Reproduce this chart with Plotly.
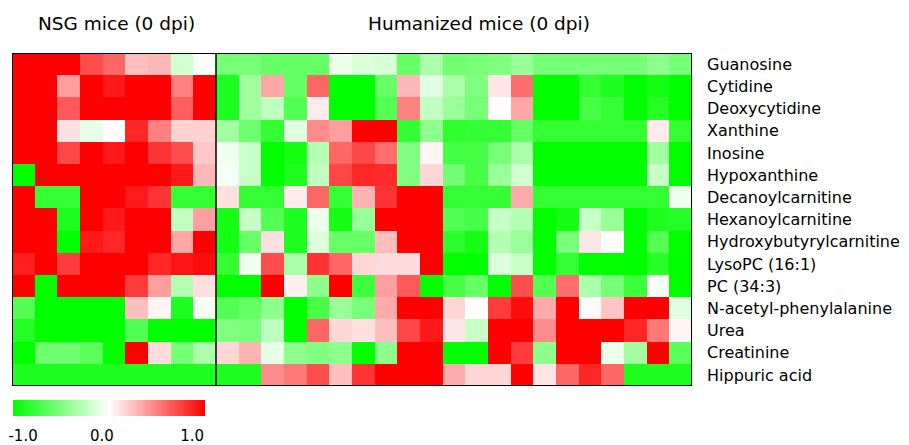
import plotly.graph_objects as go

metabolites = ["Guanosine", "Cytidine", "Deoxycytidine", "Xanthine", "Inosine",
               "Hypoxanthine", "Decanoylcarnitine", "Hexanoylcarnitine",
               "Hydroxybutyrylcarnitine", "LysoPC (16:1)", "PC (34:3)",
               "N-acetyl-phenylalanine", "Urea", "Creatinine", "Hippuric acid"]

group_titles = ["NSG mice (0 dpi)", "Humanized mice (0 dpi)"]

nsg_values = [
    [1, 1, 1, 0.7, 0.6, 0.25, 0.28, -0.18, -0.02],
    [1, 1, 0.38, 1, 0.9, 1, 1, 0.5, 1],
    [1, 1, 0.65, 1, 1, 1, 1, 0.63, 1],
    [1, 1, 0.12, -0.1, 0, 0.85, 0.5, 0.18, 0.18],
    [1, 1, 0.72, 1, 0.9, 1, 0.8, 0.7, 0.22],
    [-1, 1, 1, 1, 1, 1, 1, 0.9, 0.28],
    [1, -0.8, -0.8, 1, 1, 0.9, 0.8, -0.8, -0.8],
    [1, 1, -0.88, 1, 0.9, 1, 1, -0.24, 0.38],
    [1, 1, -1, 0.9, 0.85, 1, 1, 0.35, 1],
    [0.88, 1, 0.77, 1, 1, 1, 0.85, 0.92, 0.95],
    [1, -1, 1, 1, 1, 0.77, 0.38, -0.3, 0.12],
    [-0.68, -1, -1, -1, -1, 0.25, 0.04, -0.88, -0.05],
    [-0.85, -1, -1, -1, -1, -0.68, -1, -1, -1],
    [-1, -0.57, -0.57, -0.65, -1, 1, 0.14, -0.53, -0.33],
    [-0.88, -0.88, -0.88, -0.88, -0.88, -0.88, -0.88, -0.88, -0.88],
]

hum_values = [
    [-0.53, -0.53, -0.6, -0.6, -0.6, -0.08, -0.14, -0.16, -0.6, -0.33, -0.55, -0.53, -0.5, -0.4, -0.53, -0.53, -0.53, -0.53, -0.53, -0.45, -0.53],
    [-0.88, -0.37, 0.35, -0.6, 0.6, -1, -1, -0.6, 0.28, -0.12, -0.33, -0.5, 0.1, 0.57, -1, -1, -0.8, -0.88, -1, -0.92, -1],
    [-0.88, -0.37, -0.25, -0.68, 0.08, -1, -1, -0.68, 0.5, -0.24, -0.4, -0.53, 0.0, 0.35, -1, -1, -0.72, -0.8, -1, -0.85, -1],
    [-0.37, -0.57, -0.8, -0.12, 0.45, 0.38, 1, 1, -0.8, -0.45, -0.82, -0.8, -0.8, -0.6, -0.8, -0.8, -0.8, -0.8, -0.8, 0.08, -0.8],
    [-0.06, -0.22, -1, -0.92, -0.3, 0.6, 0.72, 0.57, -0.5, 0.04, -0.73, -0.72, -0.53, -0.33, -1, -1, -1, -1, -1, -0.37, -1],
    [-0.04, -0.22, -1, -0.88, -0.25, 0.72, 0.85, 0.83, -0.5, 0.16, -0.55, -0.72, -0.4, -0.18, -1, -1, -1, -1, -1, -0.22, -1],
    [0.12, -0.8, -0.8, 0.08, 0.6, -0.8, 0.3, 0.8, 1, 1, -0.8, -0.8, -0.8, 0.33, -0.8, -0.8, -0.8, -0.8, -0.8, -0.8, -0.06],
    [-0.92, -0.22, -0.68, -0.88, -0.08, -0.92, -0.4, 1, 1, 1, -0.68, -0.72, -0.22, -0.3, -1, -0.92, -0.22, -0.4, -1, -0.88, -0.85],
    [-0.92, -0.6, 0.12, -0.88, -0.14, -0.6, -0.6, 0.25, 1, 1, -0.82, -0.92, -0.3, -0.4, -1, -0.53, 0.1, -0.02, -1, -0.68, -1],
    [-0.8, -0.06, 0.7, -0.33, 0.8, 0.6, 0.16, 0.14, 0.14, 1, -1, -1, -0.14, -0.22, -1, -0.8, -1, -1, -1, -0.85, -1],
    [-1, -1, 1, 0.06, -0.45, 1, -0.77, 0.38, 0.65, -1, -0.72, -0.6, -1, 0.7, -0.68, 0.57, -0.33, -0.53, -0.77, -0.04, -1],
    [-0.68, -0.6, -0.45, -1, -0.72, -0.4, -0.53, 0.33, 1, 1, 0.16, 0, 0.77, 0.95, 0.33, 1, 0.02, 0.23, 1, 1, -0.12],
    [-0.5, -0.53, -0.25, -1, 0.6, 0.16, 0.12, 0.25, 0.72, 0.9, 0.1, -0.22, 1, 1, 0.45, 1, 1, 1, 0.85, 0.53, 0.04],
    [0.16, 0.3, -0.1, -0.45, -0.5, -0.45, -1, -0.45, 1, 1, -1, -1, 1, 0.77, -0.45, 1, 1, -0.08, -0.37, 1, -0.65],
    [-0.88, -0.88, 0.45, 0.53, 0.7, 0.25, 0.8, 1, 1, 1, 0.33, 0.16, 0.16, 1, 0.1, 0.6, 0.85, 0.6, -0.88, -0.88, -0.88],
]

# label positions along the colour bar as drawn in the reference
colorbar_ticks = [-0.89, -0.07, 0.87]
colorbar_ticklabels = ["-1.0", "0.0", "1.0"]

n_nsg = len(nsg_values[0])
n_hum = len(hum_values[0])
z = [n + h for n, h in zip(nsg_values, hum_values)]
cols = list(range(n_nsg + n_hum))
rows = list(range(len(metabolites)))

FONT = "DejaVu Sans, Arial, sans-serif"

# page body has an 8px default margin, so the figure is sized 8px smaller
W, H = 901, 437

fig = go.Figure(go.Heatmap(
    z=z, x=cols, y=rows,
    zmin=-1, zmax=1,
    colorscale=[[0, "rgb(0,255,0)"], [0.5, "rgb(255,255,255)"], [1, "rgb(255,0,0)"]],
    colorbar=dict(
        orientation="h",
        xref="container", yref="container",
        x=6 / W, xanchor="left",
        y=1 - 392 / H, yanchor="top",
        lenmode="pixels", len=192,
        thickness=16,
        xpad=0, ypad=0,
        outlinewidth=0,
        tickvals=colorbar_ticks, ticktext=colorbar_ticklabels,
        ticks="outside", ticklen=7, tickcolor="rgba(0,0,0,0)",
        tickfont=dict(family=FONT, size=15, color="black"),
    ),
    hoverinfo="skip",
))

ncol = len(cols)
nrow = len(rows)
fig.add_shape(type="rect", xref="x", yref="y",
              x0=-0.5, x1=ncol - 0.5, y0=-0.5, y1=nrow - 0.5,
              line=dict(color="black", width=2))
fig.add_shape(type="line", xref="x", yref="y",
              x0=n_nsg - 0.5, x1=n_nsg - 0.5, y0=-0.5, y1=nrow - 0.5,
              line=dict(color="black", width=1.5))

title_x = [0.153, 0.687]
for title, tx in zip(group_titles, title_x):
    fig.add_annotation(text=title, x=tx, xref="paper", xanchor="center",
                       y=1, yref="paper",
                       yanchor="bottom", yshift=17, showarrow=False,
                       font=dict(family=FONT, size=18.5, color="black"))

fig.update_xaxes(range=[-0.5, ncol - 0.5], showticklabels=False, showgrid=False,
                 zeroline=False, ticks="")
fig.update_yaxes(range=[nrow - 0.5, -0.5], side="right", tickvals=rows,
                 ticktext=metabolites, showgrid=False, zeroline=False, ticks="",
                 ticklabelstandoff=14,
                 tickfont=dict(family=FONT, size=16, color="black"))

fig.update_layout(
    width=W, height=H,
    margin=dict(l=4, r=217, t=45, b=59, autoexpand=False),
    plot_bgcolor="white", paper_bgcolor="white",
    font=dict(family=FONT),
)

fig.write_html("out.html")
